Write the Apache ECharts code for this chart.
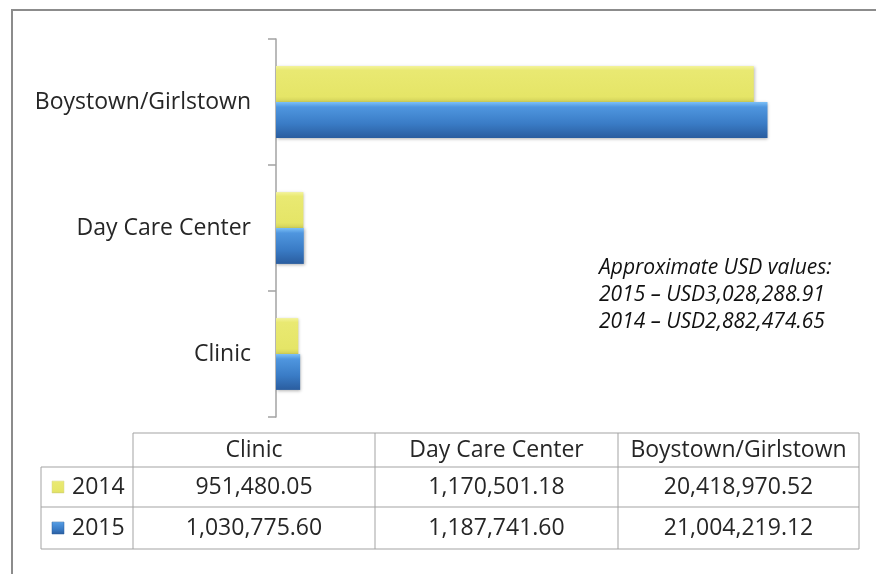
<!DOCTYPE html>
<html>
<head>
<meta charset="utf-8">
<script src="https://cdn.jsdelivr.net/npm/echarts@6/dist/echarts.min.js"></script>
<style>
html,body{margin:0;padding:0;background:#fff;}
#chart{width:876px;height:574px;}
</style>
</head>
<body>
<div id="chart"></div>
<script>
// ---- data ----
const categories = ['Clinic', 'Day Care Center', 'Boystown/Girlstown'];
const seriesNames = ['2014', '2015'];
const values2014 = [951480.05, 1170501.18, 20418970.52];
const values2015 = [1030775.60, 1187741.60, 21004219.12];
const noteLines = ['Approximate USD values:', '2015 \u2013 USD3,028,288.91', '2014 \u2013 USD2,882,474.65'];

// ---- styles ----
const FONT = '"Open Sans", "Noto Sans", sans-serif';
const TEXT_COLOR = '#262626';
const yellowGrad = {type:'linear', x:0, y:0, x2:0, y2:1, colorStops:[
  {offset:0, color:'#f3f39a'}, {offset:0.12, color:'#e9e972'}, {offset:0.85, color:'#e5e567'}, {offset:1, color:'#d2d25a'}]};
const blueGrad = {type:'linear', x:0, y:0, x2:0, y2:1, colorStops:[
  {offset:0, color:'#7cc0f7'}, {offset:0.14, color:'#4f96df'}, {offset:0.6, color:'#3a7cc6'}, {offset:1, color:'#2a5d9f'}]};
const grads = [yellowGrad, blueGrad];

function fmt(v){
  const s = v.toFixed(2);
  const parts = s.split('.');
  return parts[0].replace(/\B(?=(\d{3})+(?!\d))/g, ',') + '.' + parts[1];
}

// ---- table layout ----
const colEdges = [41, 133, 375, 618, 859];
const rowEdges = [433, 467, 507, 549];
const lineColor = '#a3a3a3';
const graphics = [];
// frame
graphics.push({type:'rect', silent:true, shape:{x:12, y:10, width:900, height:620},
  style:{fill:'none', stroke:'#8c8c8c', lineWidth:2}});
// horizontal lines
graphics.push({type:'line', silent:true, shape:{x1:colEdges[1], y1:rowEdges[0], x2:colEdges[4], y2:rowEdges[0]}, style:{stroke:lineColor, lineWidth:1}});
for (let r = 1; r < rowEdges.length; r++) {
  graphics.push({type:'line', silent:true, shape:{x1:colEdges[0], y1:rowEdges[r], x2:colEdges[4], y2:rowEdges[r]}, style:{stroke:lineColor, lineWidth:1}});
}
// vertical lines
graphics.push({type:'line', silent:true, shape:{x1:colEdges[0], y1:rowEdges[1], x2:colEdges[0], y2:rowEdges[3]}, style:{stroke:lineColor, lineWidth:1}});
for (let c = 1; c < colEdges.length; c++) {
  graphics.push({type:'line', silent:true, shape:{x1:colEdges[c], y1:rowEdges[0], x2:colEdges[c], y2:rowEdges[3]}, style:{stroke:lineColor, lineWidth:1}});
}
function cellText(txt, x, y, align){
  return {type:'text', silent:true, x:x, y:y,
    style:{text:txt, fontSize:23, fontFamily:FONT, fill:TEXT_COLOR,
      textAlign:align || 'center', textVerticalAlign:'middle', align:align || 'center', verticalAlign:'middle'}};
}
// header
categories.forEach((c, i) => {
  graphics.push(cellText(c, (colEdges[i+1] + colEdges[i+2]) / 2, (rowEdges[0] + rowEdges[1]) / 2));
});
// rows
[values2014, values2015].forEach((vals, r) => {
  const cy = (rowEdges[r+1] + rowEdges[r+2]) / 2;
  graphics.push({type:'rect', silent:true, shape:{x:colEdges[0] + 11, y:cy - 6, width:12, height:12},
    style:{fill:grads[r], stroke: r === 0 ? '#d6d690' : '#2a5d9f', lineWidth:0.5}});
  graphics.push(cellText(seriesNames[r], colEdges[0] + 31, cy, 'left'));
  vals.forEach((v, i) => {
    graphics.push(cellText(fmt(v), (colEdges[i+1] + colEdges[i+2]) / 2, cy));
  });
});
// note
noteLines.forEach((t, i) => {
  graphics.push({type:'text', silent:true, x:599, y:268 + i * 27,
    style:{text:t, fontSize:21, fontStyle:'italic', fontFamily:FONT, fill:'#111',
      textAlign:'left', textVerticalAlign:'middle', align:'left', verticalAlign:'middle'}});
});

const chart = echarts.init(document.getElementById('chart'), null, {renderer:'canvas'});
chart.setOption({
  animation:false,
  backgroundColor:'#fff',
  grid:{left:276, top:39, width:585, height:378, containLabel:false},
  xAxis:{type:'value', min:0, max:25000000, show:false, splitLine:{show:false}},
  yAxis:{type:'category', data:categories,
    axisLine:{show:true, lineStyle:{color:'#a3a3a3', width:1.5}},
    axisTick:{show:true, length:8, lineStyle:{color:'#a3a3a3', width:1.5}},
    axisLabel:{margin:25, fontSize:23, fontFamily:FONT, color:TEXT_COLOR}
  },
  series:[
    {name:seriesNames[0], type:'bar', data:values2014, barGap:'0%', barCategoryGap:'43%',
      itemStyle:{color:yellowGrad, shadowBlur:3, shadowColor:'rgba(0,0,0,0.25)', shadowOffsetX:1, shadowOffsetY:1}},
    {name:seriesNames[1], type:'bar', data:values2015, barGap:'0%', barCategoryGap:'43%',
      itemStyle:{color:blueGrad, shadowBlur:3, shadowColor:'rgba(0,0,0,0.3)', shadowOffsetX:1, shadowOffsetY:1}}
  ],
  graphic:{elements:graphics}
});
</script>
</body>
</html>
